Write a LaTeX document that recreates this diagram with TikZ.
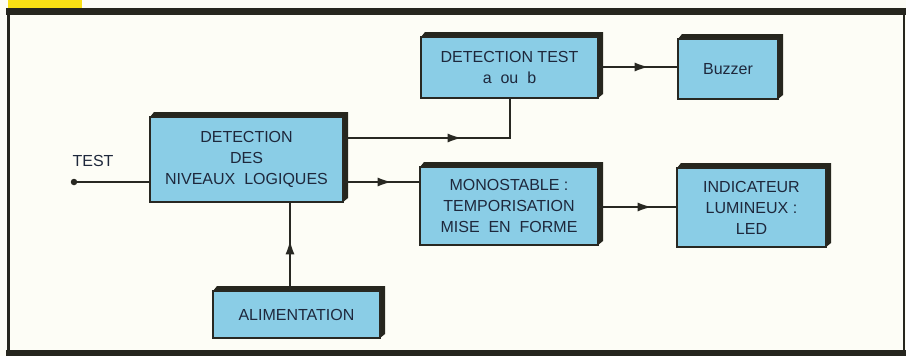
\documentclass[tikz,border=0pt]{standalone}
\usepackage{fontspec}
\setmainfont{Liberation Sans}
\usetikzlibrary{arrows.meta,decorations.markings}
\definecolor{boxc}{RGB}{138,205,230}
\definecolor{linec}{RGB}{40,40,34}
\definecolor{shadowc}{RGB}{38,38,30}
\definecolor{textc}{RGB}{30,40,60}
\definecolor{paperc}{RGB}{253,253,246}
\definecolor{yellowc}{RGB}{250,225,20}
\tikzset{
  blkbox/.style={draw=linec, line width=1.3pt, fill=boxc, inner sep=0pt,
    text=textc, align=center, font=\fontsize{16}{21}\selectfont},
  lbl/.style={text=textc, font=\fontsize{16}{21}\selectfont, inner sep=0pt},
  conn/.style={draw=linec, line width=1.6pt},
  midarrow/.style={postaction={decorate}, decoration={markings,
    mark=at position #1 with {\arrow{Latex[length=14pt,width=9pt]}}}},
  dotnode/.style={circle, fill=linec, inner sep=0pt, minimum size=6.5pt}
}
\newcommand\blk[6]{%
  \fill[shadowc] (#2,#3) -- (#2+4,#3-5) -- (#4+5,#3-5) -- (#4+5,#5-4) -- (#4,#5) -- cycle;
  \node[blkbox, minimum width={(#4-#2)*1pt}, minimum height={(#5-#3)*1pt}]
    (#1) at ({(#2+#4)/2},{(#3+#5)/2}) {#6};
}
\begin{document}
\begin{tikzpicture}[x=1pt,y=-1pt]
  \useasboundingbox (0,0) rectangle (906,356);
  \fill[paperc] (0,0) rectangle (906,356);
  % frame
  \fill[yellowc] (8,0) rectangle (82,8);
  \fill[shadowc] (6,8) rectangle (906,15);
  \fill[shadowc] (7,8) rectangle (10,356);
  \fill[shadowc] (902.5,8) rectangle (904.5,356);
  \fill[shadowc] (6,350) rectangle (906,356);
  % blocks
  \blk{det}{150}{117}{343}{202}{DETECTION\\DES\\NIVEAUX\ \ LOGIQUES}
  \blk{dt}{421}{37}{598}{98}{DETECTION TEST\\a\ \ ou\ \ b}
  \blk{buzz}{678}{39}{778}{99}{Buzzer}
  \blk{mono}{420}{167}{598}{245}{MONOSTABLE :\\TEMPORISATION\\MISE\ \ EN\ \ FORME}
  \blk{ind}{677}{168}{826}{247}{INDICATEUR\\LUMINEUX :\\LED}
  \blk{alim}{213}{291}{380}{338}{ALIMENTATION}
  % input
  \node[dotnode] (testpt) at (74,182) {};
  \node[lbl] (testlbl) at (93,161) {TEST};
  \draw[conn] (testpt) -- (testpt -| det.west);
  % connectors
  \coordinate (c1) at (510,138);
  \draw[conn, midarrow=118pt] (c1 -| det.east) -- (c1) -- (c1 |- dt.south);
  \coordinate (c2) at (380,182);
  \draw[conn, midarrow=48pt] (c2 -| det.east) -- (c2 -| mono.west);
  \coordinate (c3) at (640,207);
  \draw[conn, midarrow=53pt] (c3 -| mono.east) -- (c3 -| ind.west);
  \coordinate (c4) at (640,67);
  \draw[conn, midarrow=50pt] (c4 -| dt.east) -- (c4 -| buzz.west);
  \coordinate (c5) at (290,250);
  \draw[conn, midarrow=50pt] (c5 |- alim.north) -- (c5 |- det.south);
\end{tikzpicture}
\end{document}
